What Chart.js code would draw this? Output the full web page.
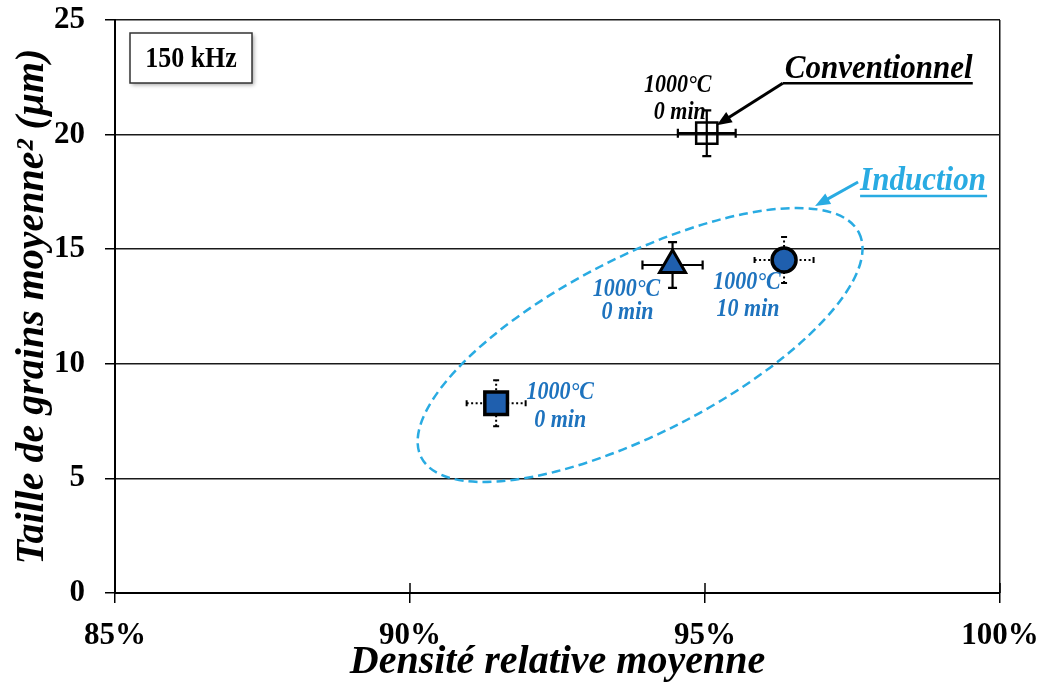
<!DOCTYPE html>
<html>
<head>
<meta charset="utf-8">
<script src="https://cdn.jsdelivr.net/npm/chart.js@4"></script>
<style>
  body { margin: 0; background: #fff; }
  #wrap { width: 1039px; height: 687px; }
</style>
</head>
<body>
<div id="wrap"><canvas id="grainChart"></canvas></div>
<script>
// Données
const seriesNames = ['Conventionnel', 'Induction triangle', 'Induction cercle', 'Induction carré'];
const density = [95.03, 94.45, 96.34, 91.46];      // %
const grainSize = [20.06, 14.31, 14.53, 8.28];     // µm²
const densityErr = [0.49, 0.51, 0.50, 0.50];
const grainErr = [1.0, 1.0, 1.0, 1.0];
const tempLabels = ['1000°C', '1000°C', '1000°C', '1000°C'];
const timeLabels = ['0 min', '0 min', '10 min', '0 min'];
const xTicks = [85, 90, 95, 100];
const yTicks = [0, 5, 10, 15, 20, 25];
const inductionZone = [93.9, 10.82];               // centre de l'ellipse

const SERIF = "'Liberation Serif', 'Times New Roman', serif";
const BLUE = '#1f5fae';
const LABEL_BLUE = '#1e73be';
const CYAN = '#29abe2';

// style de chaque point
const marks = [
  { style: 'rect', r: 15, fill: 'rgba(0,0,0,0)', bw: 2.5, dotted: false, color: '#000', t: [-29, -48], m: [-27, -21] },
  { style: 'triangle', r: 15, fill: BLUE, bw: 3, dotted: false, color: LABEL_BLUE, t: [-46, 25], m: [-45, 48] },
  { style: 'circle', r: 12, fill: BLUE, bw: 3.5, dotted: true, color: LABEL_BLUE, t: [-37, 23], m: [-36, 50] },
  { style: 'rect', r: 16, fill: BLUE, bw: 3.5, dotted: true, color: LABEL_BLUE, t: [64, -11], m: [64, 17] }
];

function stretchText(ctx, txt, x, y, font, color, align) {
  ctx.save();
  ctx.font = font;
  ctx.fillStyle = color;
  ctx.textAlign = align || 'center';
  ctx.textBaseline = 'middle';
  ctx.translate(x, y);
  ctx.scale(1, 1.12);
  ctx.fillText(txt, 0, 0);
  ctx.restore();
}

function arrow(ctx, x1, y1, x2, y2, color) {
  const a = Math.atan2(y2 - y1, x2 - x1);
  ctx.save();
  ctx.strokeStyle = color; ctx.fillStyle = color; ctx.lineWidth = 3;
  ctx.beginPath(); ctx.moveTo(x1, y1);
  ctx.lineTo(x2 - 10 * Math.cos(a), y2 - 10 * Math.sin(a)); ctx.stroke();
  ctx.beginPath();
  ctx.moveTo(x2, y2);
  ctx.lineTo(x2 - 15 * Math.cos(a) + 6 * Math.sin(a), y2 - 15 * Math.sin(a) - 6 * Math.cos(a));
  ctx.lineTo(x2 - 15 * Math.cos(a) - 6 * Math.sin(a), y2 - 15 * Math.sin(a) + 6 * Math.cos(a));
  ctx.closePath(); ctx.fill();
  ctx.restore();
}

// barres d'erreur + ellipse sous les points
const underlay = {
  id: 'underlay',
  beforeDatasetsDraw(chart) {
    const { ctx, scales: { x, y } } = chart;
    // ellipse induction
    ctx.save();
    ctx.translate(x.getPixelForValue(inductionZone[0]), y.getPixelForValue(inductionZone[1]));
    ctx.rotate(-27.2 * Math.PI / 180);
    ctx.beginPath();
    ctx.ellipse(0, 0, 246, 88, 0, 0, 2 * Math.PI);
    ctx.setLineDash([9, 5]);
    ctx.strokeStyle = CYAN; ctx.lineWidth = 2.5;
    ctx.stroke();
    ctx.restore();

    density.forEach((d, i) => {
      const m = marks[i];
      const px = x.getPixelForValue(d), py = y.getPixelForValue(grainSize[i]);
      const x0 = x.getPixelForValue(d - densityErr[i]), x1 = x.getPixelForValue(d + densityErr[i]);
      const y0 = y.getPixelForValue(grainSize[i] - grainErr[i]), y1 = y.getPixelForValue(grainSize[i] + grainErr[i]);
      ctx.save();
      ctx.strokeStyle = '#000';
      ctx.lineWidth = m.dotted ? 2 : 2.2;
      ctx.setLineDash(m.dotted ? [2, 2.5] : []);
      ctx.beginPath();
      ctx.moveTo(x0, py); ctx.lineTo(x1, py);
      ctx.moveTo(px, y0); ctx.lineTo(px, y1);
      ctx.stroke();
      ctx.setLineDash([]);
      const c = m.dotted ? 3 : 4.5;
      ctx.beginPath();
      ctx.moveTo(x0, py - c); ctx.lineTo(x0, py + c);
      ctx.moveTo(x1, py - c); ctx.lineTo(x1, py + c);
      ctx.moveTo(px - c, y0); ctx.lineTo(px + c, y0);
      ctx.moveTo(px - c, y1); ctx.lineTo(px + c, y1);
      ctx.stroke();
      ctx.restore();
    });
  }
};

// textes, flèches, encadré
const overlay = {
  id: 'overlay',
  afterDraw(chart) {
    const { ctx, scales: { x, y }, chartArea: area } = chart;
    const labFont = `italic bold 22px ${SERIF}`;
    density.forEach((d, i) => {
      const m = marks[i];
      const px = x.getPixelForValue(d), py = y.getPixelForValue(grainSize[i]);
      stretchText(ctx, tempLabels[i], px + m.t[0], py + m.t[1], labFont, m.color);
      stretchText(ctx, timeLabels[i], px + m.m[0], py + m.m[1], labFont, m.color);
    });

    // petites graduations à l'intérieur de l'axe x
    ctx.save();
    ctx.strokeStyle = '#000'; ctx.lineWidth = 1.5;
    xTicks.forEach(v => {
      const tx = x.getPixelForValue(v);
      ctx.beginPath(); ctx.moveTo(tx, area.bottom); ctx.lineTo(tx, area.bottom - 10); ctx.stroke();
    });
    ctx.restore();

    // Conventionnel
    const cx = x.getPixelForValue(density[0]), cy = y.getPixelForValue(grainSize[0]);
    stretchText(ctx, 'Conventionnel', cx + 78, cy - 64, `italic bold 31px ${SERIF}`, '#000', 'left');
    ctx.save();
    ctx.strokeStyle = '#000'; ctx.lineWidth = 2.5;
    ctx.beginPath(); ctx.moveTo(cx + 76, cy - 50); ctx.lineTo(cx + 266, cy - 50); ctx.stroke();
    ctx.restore();
    arrow(ctx, cx + 76, cy - 50, cx + 10, cy - 8, '#000');

    // Induction
    const ex = x.getPixelForValue(inductionZone[0]), ey = y.getPixelForValue(inductionZone[1]);
    stretchText(ctx, 'Induction', ex + 220, ey - 164, `italic bold 31px ${SERIF}`, CYAN, 'left');
    ctx.save();
    ctx.strokeStyle = CYAN; ctx.lineWidth = 2.5;
    ctx.beginPath(); ctx.moveTo(ex + 220, ey - 149); ctx.lineTo(ex + 347, ey - 149); ctx.stroke();
    ctx.restore();
    arrow(ctx, ex + 218, ey - 163, ex + 175, ey - 139, CYAN);

    // encadré 150 kHz
    const bx = area.left + 15, by = area.top + 13, bw = 122, bh = 50;
    ctx.save();
    ctx.shadowColor = 'rgba(0,0,0,0.35)'; ctx.shadowBlur = 4; ctx.shadowOffsetX = 2; ctx.shadowOffsetY = 2;
    ctx.fillStyle = '#fff'; ctx.fillRect(bx, by, bw, bh);
    ctx.restore();
    ctx.save();
    ctx.strokeStyle = '#333'; ctx.lineWidth = 1.5; ctx.strokeRect(bx, by, bw, bh);
    ctx.restore();
    stretchText(ctx, '150 kHz', bx + bw / 2, by + bh / 2 + 1, `bold 26px ${SERIF}`, '#000');
  }
};

new Chart(document.getElementById('grainChart'), {
  type: 'scatter',
  data: {
    datasets: seriesNames.map((name, i) => ({
      label: name,
      data: [{ x: density[i], y: grainSize[i] }],
      pointStyle: marks[i].style,
      pointRadius: marks[i].r,
      pointHoverRadius: marks[i].r,
      backgroundColor: marks[i].fill,
      borderColor: '#000',
      pointBorderWidth: marks[i].bw,
      pointHoverBorderWidth: marks[i].bw
    }))
  },
  options: {
    responsive: true,
    maintainAspectRatio: false,
    animation: false,
    layout: { padding: { top: 20, right: 39, left: 0, bottom: 0 } },
    plugins: { legend: { display: false }, tooltip: { enabled: false } },
    scales: {
      x: {
        min: 85, max: 100,
        afterBuildTicks: s => { s.ticks = xTicks.map(v => ({ value: v })); },
        afterFit: s => { s.height = 94; s.paddingLeft = 0; s.paddingRight = 0; },
        ticks: {
          callback: v => v + '%',
          font: { family: SERIF, size: 31, weight: 'bold' },
          color: '#000', padding: 14, maxRotation: 0
        },
        grid: {
          color: c => c.tick && c.tick.value === 100 ? '#111' : 'rgba(0,0,0,0)',
          tickColor: '#000', tickLength: 10, lineWidth: 1.5
        },
        border: { color: '#000', width: 2 },
        title: {
          display: true, text: 'Densité relative moyenne',
          font: { family: SERIF, size: 40, weight: 'bold', style: 'italic' },
          color: '#000', padding: { top: 0, bottom: 0 }
        }
      },
      y: {
        min: 0, max: 25,
        afterBuildTicks: s => { s.ticks = yTicks.map(v => ({ value: v })); },
        afterFit: s => { s.width = 115; s.paddingTop = 0; s.paddingBottom = 0; },
        ticks: {
          font: { family: SERIF, size: 31, weight: 'bold' },
          color: '#000', padding: 20
        },
        grid: { color: '#1a1a1a', tickColor: '#000', tickLength: 10, lineWidth: 1.5 },
        border: { color: '#000', width: 2 },
        title: {
          display: true, text: 'Taille de grains moyenne² (µm)',
          font: { family: SERIF, size: 40, weight: 'bold', style: 'italic' },
          color: '#000', padding: { top: 9, bottom: 0 }
        }
      }
    }
  },
  plugins: [underlay, overlay]
});
</script>
</body>
</html>
